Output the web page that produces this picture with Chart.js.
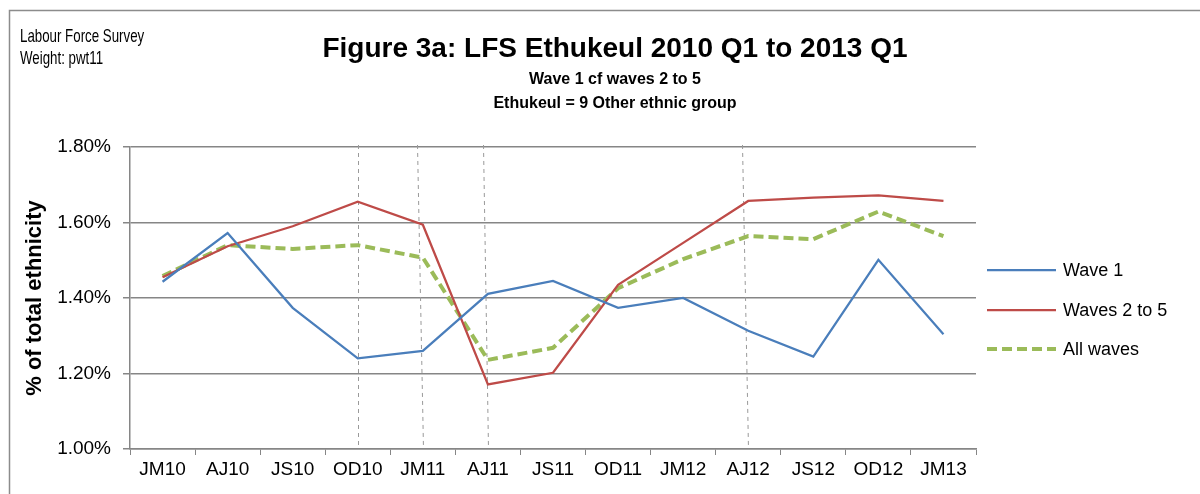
<!DOCTYPE html>
<html>
<head>
<meta charset="utf-8">
<script src="https://cdn.jsdelivr.net/npm/chart.js@4/dist/chart.umd.min.js"></script>
<style>
  html, body { margin: 0; padding: 0; background: #fff; }
  #wrap { width: 1200px; height: 494px; }
</style>
</head>
<body>
<div id="wrap"><canvas id="lfsChart" width="1200" height="494"></canvas></div>
<script>
// LFS Ethukeul — wave 1 vs waves 2 to 5, share of "Other ethnic group"

const quarters = ["JM10", "AJ10", "JS10", "OD10", "JM11", "AJ11", "JS11", "OD11", "JM12", "AJ12", "JS12", "OD12", "JM13"];

// % of total ethnicity
const wave1    = [1.443, 1.572, 1.374, 1.240, 1.260, 1.411, 1.445, 1.374, 1.400, 1.313, 1.245, 1.501, 1.304];
const waves2to5 = [1.455, 1.537, 1.590, 1.655, 1.594, 1.171, 1.202, 1.435, 1.546, 1.657, 1.666, 1.672, 1.657];
const allWaves = [1.458, 1.540, 1.530, 1.540, 1.507, 1.236, 1.268, 1.426, 1.503, 1.564, 1.556, 1.629, 1.564];

const yTicks = [1.0, 1.2, 1.4, 1.6, 1.8];

// quarters with a dashed marker line
const markedQuarters = ["OD10", "JM11", "AJ11", "AJ12"];
const markerLean = [0, -6, -5, -6];

const titleLines = [
  { text: "Figure 3a: LFS Ethukeul 2010 Q1 to 2013 Q1", size: 28, y: 57 },
  { text: "Wave 1 cf waves 2 to 5", size: 16, y: 84 },
  { text: "Ethukeul = 9 Other ethnic group", size: 16, y: 108 }
];
const sourceLines = ["Labour Force Survey", "Weight: pwt11"];

const AXIS_GREY = "#868686";
const FONT = "Arial, 'Liberation Sans', sans-serif";

const frameAndText = {
  id: "frameAndText",
  beforeDraw(chart) {
    const ctx = chart.ctx;
    ctx.save();
    ctx.fillStyle = "#fff";
    ctx.fillRect(0, 0, chart.width, chart.height);
    ctx.strokeStyle = "#8c8c8c";
    ctx.lineWidth = 1.5;
    ctx.beginPath();
    ctx.moveTo(9.5, chart.height + 2);
    ctx.lineTo(9.5, 10.5);
    ctx.lineTo(chart.width + 2, 10.5);
    ctx.stroke();

    // source note, condensed
    ctx.fillStyle = "#000";
    ctx.textBaseline = "alphabetic";
    ctx.font = "19px 'Liberation Sans Narrow', 'Arial Narrow', " + FONT;
    ctx.save();
    ctx.translate(20, 0);
    ctx.scale(0.7, 1);
    ctx.fillText(sourceLines[0], 0, 42);
    ctx.fillText(sourceLines[1], 0, 64);
    ctx.restore();

    // titles
    ctx.textAlign = "center";
    titleLines.forEach(t => {
      ctx.font = "bold " + t.size + "px " + FONT;
      ctx.fillText(t.text, 615, t.y);
    });

    // y axis title
    ctx.save();
    ctx.translate(35, (chart.chartArea.top + chart.chartArea.bottom) / 2);
    ctx.rotate(-Math.PI / 2);
    ctx.font = "bold 22px " + FONT;
    ctx.textBaseline = "middle";
    ctx.fillText("% of total ethnicity", 0, 0);
    ctx.restore();
    ctx.restore();
  },
  beforeDatasetsDraw(chart) {
    const { ctx, chartArea: { top, bottom } } = chart;
    const xs = chart.scales.x;
    ctx.save();
    ctx.strokeStyle = "#9a9a9a";
    ctx.lineWidth = 1;
    ctx.setLineDash([4, 4]);
    markedQuarters.forEach((q, i) => {
      const x = xs.getPixelForValue(quarters.indexOf(q));
      ctx.beginPath();
      ctx.moveTo(Math.round(x + markerLean[i]) + 0.5, top - 2);
      ctx.lineTo(Math.round(x) + 0.5, bottom);
      ctx.stroke();
    });
    ctx.restore();
  },
  afterDraw(chart) {
    // legend on the right
    const ctx = chart.ctx;
    const x0 = 987, x1 = 1056;
    const rows = [270, 310, 349];
    ctx.save();
    chart.data.datasets.forEach((ds, i) => {
      const y = rows[i];
      ctx.strokeStyle = ds.borderColor;
      ctx.lineWidth = ds.borderWidth;
      ctx.setLineDash(ds.borderDash || []);
      ctx.beginPath();
      ctx.moveTo(x0, y);
      ctx.lineTo(x1, y);
      ctx.stroke();
      ctx.setLineDash([]);
      ctx.fillStyle = "#000";
      ctx.font = "18px " + FONT;
      ctx.textBaseline = "middle";
      ctx.fillText(ds.label, 1063, y + 1);
    });
    ctx.restore();
  }
};

const ctx = document.getElementById("lfsChart").getContext("2d");
new Chart(ctx, {
  type: "line",
  plugins: [frameAndText],
  data: {
    labels: quarters,
    datasets: [
      {
        label: "Wave 1",
        data: wave1,
        borderColor: "#4A7EBB",
        borderWidth: 2.25,
        pointRadius: 0,
        tension: 0
      },
      {
        label: "Waves 2 to 5",
        data: waves2to5,
        borderColor: "#BE4B48",
        borderWidth: 2.25,
        pointRadius: 0,
        tension: 0
      },
      {
        label: "All waves",
        data: allWaves,
        borderColor: "#9BBB59",
        borderWidth: 4,
        borderDash: [10, 5],
        pointRadius: 0,
        tension: 0
      }
    ]
  },
  options: {
    responsive: false,
    devicePixelRatio: 1,
    animation: false,
    layout: { padding: { left: 0, top: 147, right: 224, bottom: 0 } },
    plugins: {
      legend: { display: false },
      tooltip: { enabled: false }
    },
    scales: {
      x: {
        offset: true,
        afterFit: s => { s.height = 45; },
        grid: {
          offset: true,
          drawOnChartArea: false,
          color: AXIS_GREY,
          tickLength: 6
        },
        border: { color: AXIS_GREY, width: 1.5 },
        ticks: {
          color: "#000",
          maxRotation: 0,
          autoSkip: false,
          padding: 3,
          font: { family: FONT, size: 19 }
        }
      },
      y: {
        min: 1.0,
        max: 1.8,
        afterFit: s => { s.width = 130; },
        afterBuildTicks: s => { s.ticks = yTicks.map(v => ({ value: v })); },
        grid: { color: AXIS_GREY, lineWidth: 1.5, tickLength: 7 },
        border: { color: AXIS_GREY, width: 1.5 },
        ticks: {
          color: "#000",
          padding: 12,
          font: { family: FONT, size: 19 },
          callback: v => v.toFixed(2) + "%"
        }
      }
    }
  }
});
</script>
</body>
</html>
